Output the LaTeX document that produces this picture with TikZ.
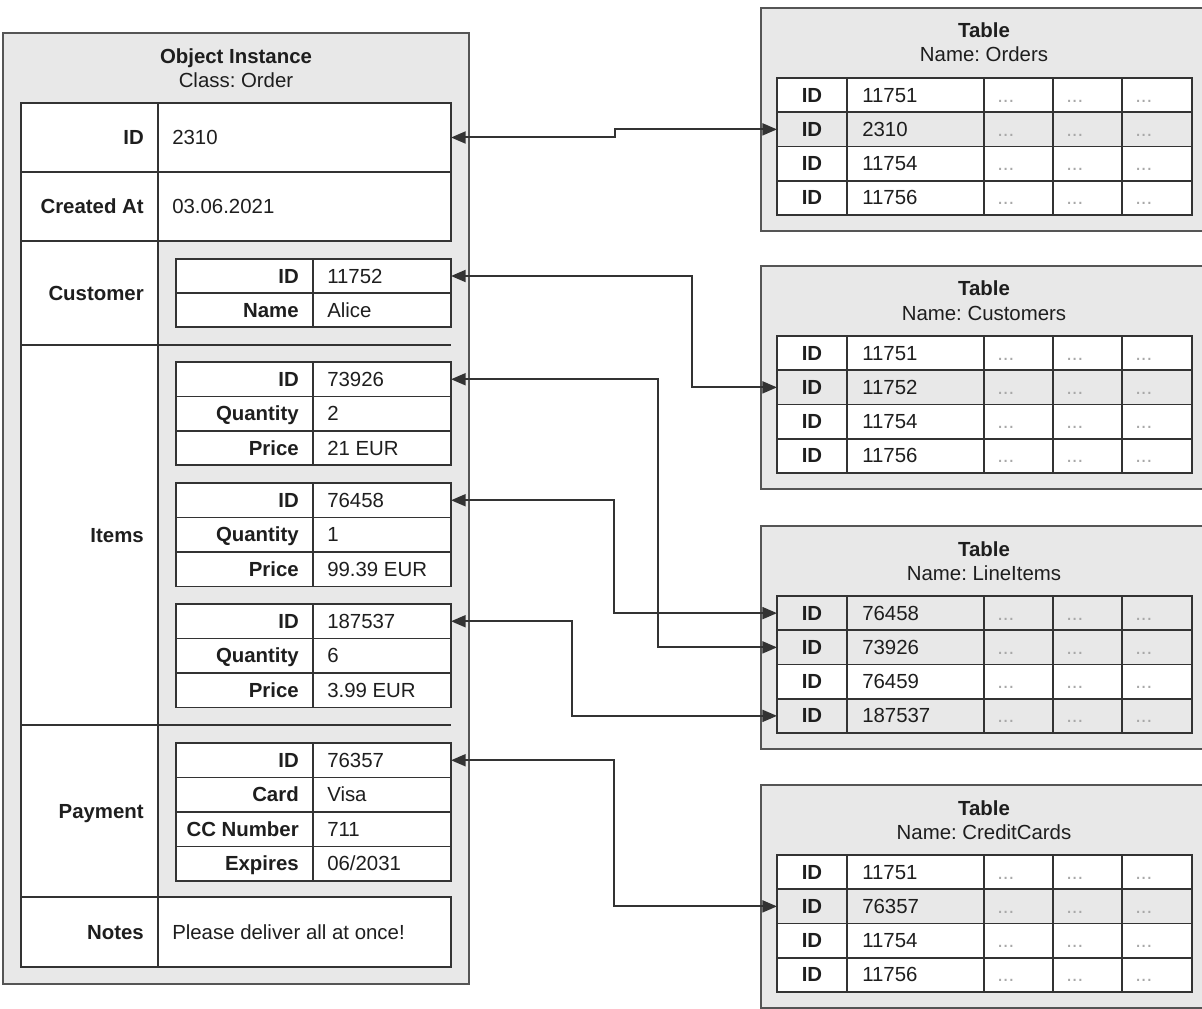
\documentclass[tikz,border=0pt]{standalone}
\usepackage{fontspec}
\setmainfont{Liberation Sans}
\usetikzlibrary{arrows.meta,calc}
\frenchspacing
\definecolor{boxgray}{HTML}{E8E8E8}
\definecolor{linec}{HTML}{333333}
\definecolor{framec}{HTML}{555555}
\definecolor{txt}{HTML}{1E1E1E}
\definecolor{dotc}{HTML}{A8A8A8}
\newcommand{\msz}{\fontsize{15.3}{18}\selectfont}
\tikzset{
  cellw/.style={draw=linec, line width=1.4pt, fill=white, inner sep=0pt, outer sep=0pt},
  objframe/.style={draw=framec, line width=1.4pt, fill=boxgray, inner sep=0pt, outer sep=0pt},
  lbl/.style={font=\msz\bfseries, text=txt, inner sep=0pt},
  val/.style={font=\msz, text=txt, inner sep=0pt},
  dotsty/.style={font=\msz, text=dotc, inner sep=0pt},
  sepline/.style={draw=linec, line width=1.4pt},
  conn/.style={draw=linec, line width=1.5pt, {Triangle[length=11pt,width=9pt]}-{Triangle[length=11pt,width=9pt]}},
}
\newcommand{\cellbox}[6]{\node[#6, anchor=north west, minimum width={((#4)-(#2))*0.75pt}, minimum height={((#5)-(#3))*0.75pt}] (#1) at (#2,#3) {};}
\newcommand{\lab}[2]{\node[lbl, anchor=base east] (#1t) at ($(#1.east)+(-14,7)$) {#2};}
\newcommand{\valt}[2]{\node[val, anchor=base west] (#1t) at ($(#1.west)+(14,7)$) {#2};}
\newcommand{\subrow}[5]{%
  \cellbox{#1l}{176}{#2}{313}{#3}{cellw}
  \cellbox{#1v}{313}{#2}{451}{#3}{cellw}
  \lab{#1l}{#4}
  \valt{#1v}{#5}}
\newcommand{\dbtable}[4]{%
  \cellbox{#1box}{761}{8+#2}{1210}{231+#2}{objframe}
  \node[lbl, anchor=base] (#1tt) at (984,38+#2) {Table};
  \node[val, anchor=base] (#1tn) at (984,62+#2) {Name: #3};
  \foreach \vv/\ff [count=\ri] in {#4} {
    \pgfmathsetmacro\ty{78+#2+(\ri-1)*34.25}
    \pgfmathsetmacro\by{\ty+34.25}
    \cellbox{#1id\ri}{777}{\ty}{847}{\by}{cellw, fill=\ff}
    \cellbox{#1v\ri}{847}{\ty}{984}{\by}{cellw, fill=\ff}
    \node[lbl, anchor=base] (#1idt\ri) at ($(#1id\ri.center)+(0,7)$) {ID};
    \node[val, anchor=base west] (#1vt\ri) at ($(#1v\ri.west)+(15,7)$) {\vv};
    \foreach \cx/\cy [count=\ci] in {984/1053,1053/1122,1122/1192} {
      \cellbox{#1c\ri-\ci}{\cx}{\ty}{\cy}{\by}{cellw, fill=\ff}
      \node[dotsty, anchor=base west] (#1d\ri-\ci) at ($(#1c\ri-\ci.west)+(13,7)$) {...};
    }
  }}
\begin{document}
\begin{tikzpicture}[x=0.75pt, y=-0.75pt, font=\msz]
\useasboundingbox (0,0) rectangle (1202,1009);
% object instance
\cellbox{obj}{3}{33}{469}{984}{objframe}
\node[lbl, anchor=base] (objt) at (236,64) {Object Instance};
\node[val, anchor=base] (objc) at (236,88) {Class: Order};
\cellbox{lid}{21}{103}{158}{172}{cellw}
\cellbox{vid}{158}{103}{451}{172}{cellw}
\cellbox{lca}{21}{172}{158}{241}{cellw}
\cellbox{vca}{158}{172}{451}{241}{cellw}
\cellbox{lcu}{21}{241}{158}{345}{cellw}
\cellbox{lit}{21}{345}{158}{725}{cellw}
\cellbox{lpa}{21}{725}{158}{897}{cellw}
\cellbox{lno}{21}{897}{158}{967}{cellw}
\cellbox{vno}{158}{897}{451}{967}{cellw}
\draw[sepline] (lcu.south east) -- (lcu.south east -| vid.east);
\draw[sepline] (lit.south east) -- (lit.south east -| vid.east);
\lab{lid}{ID}
\valt{vid}{2310}
\lab{lca}{Created At}
\valt{vca}{03.06.2021}
\lab{lcu}{Customer}
\lab{lit}{Items}
\lab{lpa}{Payment}
\lab{lno}{Notes}
\valt{vno}{Please deliver all at once!}
% customer
\subrow{cua}{259}{293}{ID}{11752}
\subrow{cub}{293}{327}{Name}{Alice}
% items
\subrow{iaa}{362}{396.5}{ID}{73926}
\subrow{iab}{396.5}{431}{Quantity}{2}
\subrow{iac}{431}{465}{Price}{21 EUR}
\subrow{iba}{483}{517.5}{ID}{76458}
\subrow{ibb}{517.5}{552}{Quantity}{1}
\subrow{ibc}{552}{586.5}{Price}{99.39 EUR}
\subrow{ica}{604}{638.5}{ID}{187537}
\subrow{icb}{638.5}{673}{Quantity}{6}
\subrow{icc}{673}{707.5}{Price}{3.99 EUR}
% payment
\subrow{paa}{743}{777.5}{ID}{76357}
\subrow{pab}{777.5}{812}{Card}{Visa}
\subrow{pac}{812}{846.5}{CC Number}{711}
\subrow{pad}{846.5}{881}{Expires}{06/2031}
% tables
\dbtable{ord}{0}{Orders}{11751/white,2310/boxgray,11754/white,11756/white}
\dbtable{cus}{258}{Customers}{11751/white,11752/boxgray,11754/white,11756/white}
\dbtable{li}{518}{LineItems}{76458/boxgray,73926/boxgray,76459/white,187537/boxgray}
\dbtable{cc}{777}{CreditCards}{11751/white,76357/boxgray,11754/white,11756/white}
% connectors
\coordinate (k1) at (615,0);
\coordinate (k2) at (692,0);
\coordinate (k3) at (658,0);
\coordinate (k4) at (614,0);
\coordinate (k5) at (572,0);
\coordinate (k6) at (614,0);
\draw[conn] (vid.east) -- (vid.east -| k1) -- (ordid2.west -| k1) -- (ordid2.west);
\draw[conn] (cuav.east) -- (cuav.east -| k2) -- (cusid2.west -| k2) -- (cusid2.west);
\draw[conn] (iaav.east) -- (iaav.east -| k3) -- (liid2.west -| k3) -- (liid2.west);
\draw[conn] (ibav.east) -- (ibav.east -| k4) -- (liid1.west -| k4) -- (liid1.west);
\draw[conn] (icav.east) -- (icav.east -| k5) -- (liid4.west -| k5) -- (liid4.west);
\draw[conn] (paav.east) -- (paav.east -| k6) -- (ccid2.west -| k6) -- (ccid2.west);
\end{tikzpicture}
\end{document}
